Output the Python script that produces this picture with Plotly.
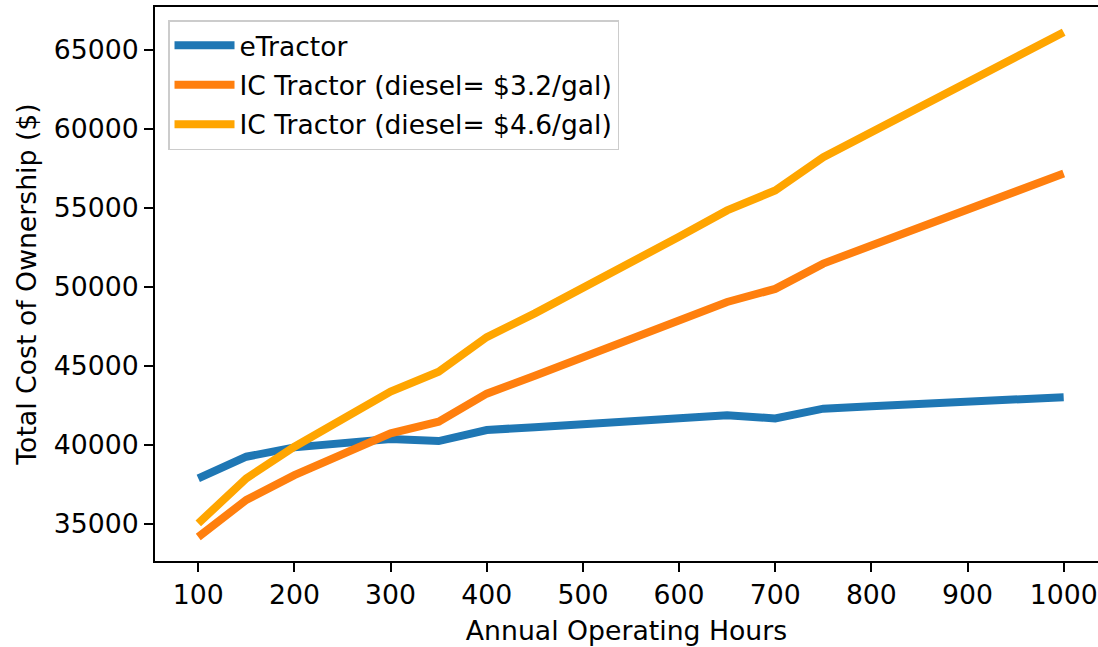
import plotly.graph_objects as go

hours = [100, 150, 200, 250, 300, 350, 400, 450, 500, 550, 600, 650, 700, 750, 800, 850, 900, 950, 1000]
etractor = [37860, 39230, 39820, 40080, 40350, 40220, 40920, 41100, 41300, 41500, 41700, 41850, 41650, 42270, 42420, 42570, 42720, 42860, 43000]
ic_32 = [34150, 36500, 38060, 39380, 40710, 41450, 43220, 44350, 45500, 46650, 47850, 49020, 49850, 51450, 52600, 53750, 54900, 56020, 57150]
ic_46 = [35010, 37860, 39860, 41660, 43350, 44610, 46800, 48300, 49900, 51450, 53150, 54820, 56080, 58180, 59760, 61350, 62920, 64500, 66090]

names = ["eTractor", "IC Tractor (diesel= $3.2/gal)", "IC Tractor (diesel= $4.6/gal)"]
colors = ["#1f77b4", "#ff7f0e", "#ffa500"]
series = [etractor, ic_32, ic_46]

FONT = "DejaVu Sans"
AX = 26.7

fig = go.Figure()
for i, (nm, col, ys) in enumerate(zip(names, colors, series)):
    fig.add_trace(go.Scatter(
        x=hours, y=ys, mode="lines", name=nm, legendgroup=f"g{i}",
        line=dict(color=col, width=8),
    ))

fig.update_layout(
    width=1098, height=647,
    margin=dict(l=155, r=0, t=7, b=86),
    paper_bgcolor="white", plot_bgcolor="white",
    font=dict(family=FONT, size=AX, color="black"),
    showlegend=True,
    legend=dict(
        x=0.0138, y=0.9765, xanchor="left", yanchor="top",
        bgcolor="rgba(255,255,255,0.8)", bordercolor="#cccccc", borderwidth=1.5,
        font=dict(family=FONT, size=26.5, color="black"),
        tracegroupgap=2, itemwidth=60,
    ),
    xaxis=dict(
        range=[55, 1035.7],
        tickmode="array", tickvals=[100, 200, 300, 400, 500, 600, 700, 800, 900, 1000],
        ticktext=["100", "200", "300", "400", "500", "600", "700", "800", "900", "1000"],
        showgrid=False, zeroline=False,
        showline=True, linecolor="black", linewidth=2, mirror=True,
        ticks="outside", ticklen=9, tickwidth=1.6, tickcolor="black",
        title=dict(text="Annual Operating Hours", standoff=12, font=dict(size=AX)),
        tickfont=dict(size=AX),
    ),
    yaxis=dict(
        range=[32630, 67690],
        tickmode="array", tickvals=[35000, 40000, 45000, 50000, 55000, 60000, 65000],
        ticktext=["35000", "40000", "45000", "50000", "55000", "60000", "65000"],
        showgrid=False, zeroline=False,
        showline=True, linecolor="black", linewidth=2, mirror=False,
        ticks="outside", ticklen=9, tickwidth=1.6, tickcolor="black",
        title=dict(text="Total Cost of Ownership ($)", standoff=9, font=dict(size=AX)),
        tickfont=dict(size=AX),
    ),
)

fig.write_html("out.html")
